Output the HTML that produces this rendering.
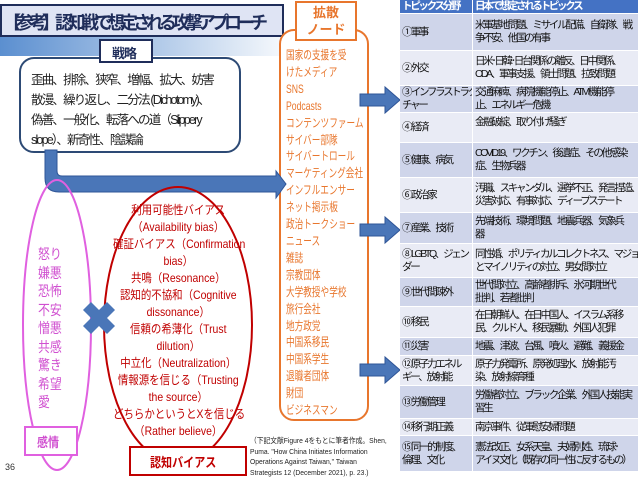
<!DOCTYPE html>
<html><head><meta charset="utf-8"><style>
body{margin:0;width:640px;height:477px;position:relative;overflow:hidden;background:#fff;font-family:"Liberation Sans","Noto Sans CJK JP",sans-serif;}
.a{position:absolute;white-space:nowrap;transform-origin:0 0;}
.r{position:absolute;left:400px;width:238px;overflow:hidden;}
.r div{position:absolute;top:0;bottom:1px;display:flex;align-items:center;font-size:10.5px;line-height:13px;letter-spacing:-2.3px;color:#111;white-space:nowrap;overflow:hidden;}
.c1{left:0;width:70px;padding-left:2px;}
.c2{left:73px;right:0;padding-left:2px;}
.o div{background:#cfd5ea;}
.e div{background:#e9ebf5;}
</style></head><body>
<svg class="a" style="left:0;top:0" width="640" height="477">
<defs><linearGradient id="g" x1="0" x2="1"><stop offset="0" stop-color="#5b8fd0"/><stop offset="1" stop-color="#fff"/></linearGradient></defs>
<rect x="0" y="36" width="300" height="20" fill="url(#g)"/>
<rect x="1" y="5" width="282" height="31" fill="#dfe4f4" stroke="#1f2d5a" stroke-width="2"/>
<rect x="280" y="30" width="88" height="390" rx="14" fill="#fff" stroke="#e8762d" stroke-width="2"/>
<rect x="296" y="2" width="60" height="38" fill="#fff" stroke="#e8762d" stroke-width="2"/>
<rect x="20" y="58" width="220" height="94" rx="14" fill="#fff" stroke="#2d4a75" stroke-width="2"/>
<rect x="100" y="40" width="52" height="22" fill="#fff" stroke="#1f2d5a" stroke-width="2"/>
<path d="M45 150 V178 Q45 192 59 192 H276 V198 L286 184 L276 171 V176 H62 Q57 176 57 171 V150 Z" fill="#4a76b8" stroke="#2f5597"/>
<ellipse cx="57" cy="325" rx="34" ry="145" fill="none" stroke="#e060e0" stroke-width="2"/>
<rect x="25" y="427" width="52" height="28" fill="#fff" stroke="#e060e0" stroke-width="2"/>
<ellipse cx="178" cy="325" rx="74" ry="138" fill="none" stroke="#c00000" stroke-width="2"/>
<rect x="130" y="447" width="116" height="28" fill="#fff" stroke="#c00000" stroke-width="2"/>
<path d="M83 310 L91 302 L99 310 L107 302 L115 310 L107 318 L115 326 L107 334 L99 326 L91 334 L83 326 L91 318 Z" fill="#4a76b8"/>
<g fill="#4a76b8" stroke="#2f5597">
<path d="M360 94 H385 V87 L400 100 L385 113 V106 H360 Z"/>
<path d="M360 224 H385 V217 L400 230 L385 243 V236 H360 Z"/>
<path d="M360 364 H385 V357 L400 370 L385 383 V376 H360 Z"/>
</g>
</svg>
<div class="a" style="left:3px;top:9px;font-size:18px;letter-spacing:-5px;font-weight:bold;color:#1f2d5a;">【参考】認知戦で想定される攻撃アプローチ</div>
<div class="a" style="left:112px;top:43px;font-size:13px;letter-spacing:-1px;font-weight:bold;color:#1f2d5a;">戦略</div>
<div class="a" style="left:31px;top:70px;font-size:12.5px;letter-spacing:-1.8px;line-height:20px;color:#222;">歪曲、排除、狭窄、増幅、拡大、妨害<br>散漫、繰り返し、二分法 (Dichotomy)、<br>偽善、一般化、転落への道（Slippery<br>slope）、新奇性、陰謀論</div>
<div class="a" style="left:302px;top:4px;font-size:13px;line-height:17px;font-weight:bold;color:#e8762d;text-align:center;width:48px;">拡散<br>ノード</div>
<div class="a" style="left:286px;top:47px;font-size:12px;line-height:16.9px;color:#e8762d;transform:scaleX(0.72);">国家の支援を受<br>けたメディア<br>SNS<br>Podcasts<br>コンテンツファーム<br>サイバー部隊<br>サイバートロール<br>マーケティング会社<br>インフルエンサー<br>ネット掲示板<br>政治トークショー<br>ニュース<br>雑誌<br>宗教団体<br>大学教授や学校<br>旅行会社<br>地方政党<br>中国系移民<br>中国系学生<br>退職者団体<br>財団<br>ビジネスマン</div>
<div class="a" style="left:38px;top:245px;font-size:14px;line-height:18.5px;color:#d050d0;transform:scaleX(0.85);">怒り<br>嫌悪<br>恐怖<br>不安<br>憎悪<br>共感<br>驚き<br>希望<br>愛</div>
<div class="a" style="left:37px;top:432px;font-size:13px;font-weight:bold;color:#d050d0;transform:scaleX(0.85);">感情</div>
<div class="a" style="left:113px;top:202px;width:150px;text-align:center;font-size:12px;line-height:17px;color:#c00000;transform:scaleX(0.87);">利用可能性バイアス<br>（Availability bias）<br>確証バイアス（Confirmation<br>bias）<br>共鳴（Resonance）<br>認知的不協和（Cognitive<br>dissonance）<br>信頼の希薄化（Trust<br>dilution）<br>中立化（Neutralization）<br>情報源を信じる（Trusting<br>the source）<br>どちらかというとXを信じる<br>（Rather believe）</div>
<div class="a" style="left:150px;top:452px;font-size:13px;font-weight:bold;color:#c00000;transform:scaleX(0.85);">認知バイアス</div>
<div class="a" style="left:250px;top:436px;font-size:7.5px;line-height:10.5px;color:#222;transform:scaleX(0.9);">（下記文献Figure 4をもとに筆者作成。Shen,<br>Puma. "How China Initiates Information<br>Operations Against Taiwan," Taiwan<br>Strategists 12 (December 2021), p. 23.)</div>
<div class="a" style="left:5px;top:462px;font-size:9px;color:#333;">36</div>

<div class="r" style="top:0;height:14px;"><div class="c1" style="background:#4472c4;color:#fff;font-weight:bold;">トピックス分野</div><div class="c2" style="background:#4472c4;color:#fff;font-weight:bold;">日本で想定されるトピックス</div></div>
<div class="r o" style="top:14px;height:37px;"><div class="c1">① 軍事</div><div class="c2">米軍基地問題、ミサイル配備、自衛隊、戦<br>争不安、他国の有事</div></div>
<div class="r e" style="top:51px;height:35px;"><div class="c1">② 外交</div><div class="c2">日米･日韓･日台関係の離反、日中関係、<br>ODA、軍事支援、領土問題、拉致問題</div></div>
<div class="r o" style="top:86px;height:27px;"><div class="c1">③ インフラストラク<br>チャー</div><div class="c2">交通麻痺、病院機能停止、ATM機能停<br>止、エネルギー危機</div></div>
<div class="r e" style="top:113px;height:30px;"><div class="c1">④ 経済</div><div class="c2" style="align-items:flex-start;padding-top:3px;">金融破綻、取り付け騒ぎ</div></div>
<div class="r o" style="top:143px;height:35px;"><div class="c1">⑤ 健康、病気</div><div class="c2">COVID19、ワクチン、後遺症、その他感染<br>症、生物兵器</div></div>
<div class="r e" style="top:178px;height:35px;"><div class="c1">⑥ 政治家</div><div class="c2">汚職、スキャンダル、選挙不正、発言捏造、<br>災害対応、有事対応、ディープステート</div></div>
<div class="r o" style="top:213px;height:31px;"><div class="c1">⑦ 産業、技術</div><div class="c2">先端技術、環境問題、地震兵器、気象兵<br>器</div></div>
<div class="r e" style="top:244px;height:34px;"><div class="c1">⑧ LGBTQ、ジェン<br>ダー</div><div class="c2">同性婚、ポリティカルコレクトネス、マジョリティ<br>とマイノリティの対立、男女間対立</div></div>
<div class="r o" style="top:278px;height:29px;"><div class="c1">⑨ 世代間疎外</div><div class="c2">世代間対立、高齢者排斥、氷河期世代<br>批判、若者批判</div></div>
<div class="r e" style="top:307px;height:31px;"><div class="c1">⑩ 移民</div><div class="c2">在日朝鮮人、在日中国人、イスラム系移<br>民、クルド人、移民暴動、外国人犯罪</div></div>
<div class="r o" style="top:338px;height:18px;"><div class="c1">⑪ 災害</div><div class="c2">地震、津波、台風、噴火、避難、義援金</div></div>
<div class="r e" style="top:356px;height:30px;"><div class="c1">⑫ 原子力エネル<br>ギー、放射能</div><div class="c2">原子力発電所、原発処理水、放射能汚<br>染、放射線育種</div></div>
<div class="r o" style="top:386px;height:33px;"><div class="c1">⑬ 労働管理</div><div class="c2">労働者対立、ブラック企業、外国人技能実<br>習生</div></div>
<div class="r e" style="top:419px;height:17px;"><div class="c1">⑭ 移行期正義</div><div class="c2">南京事件、従軍慰安婦問題</div></div>
<div class="r o" style="top:436px;height:36px;"><div class="c1">⑮ 同一的制度、<br>倫理、文化</div><div class="c2">憲法改正、女系天皇、夫婦別姓、琉球･<br>アイヌ文化（既存の同一性に反するもの）</div></div>
</body></html>
